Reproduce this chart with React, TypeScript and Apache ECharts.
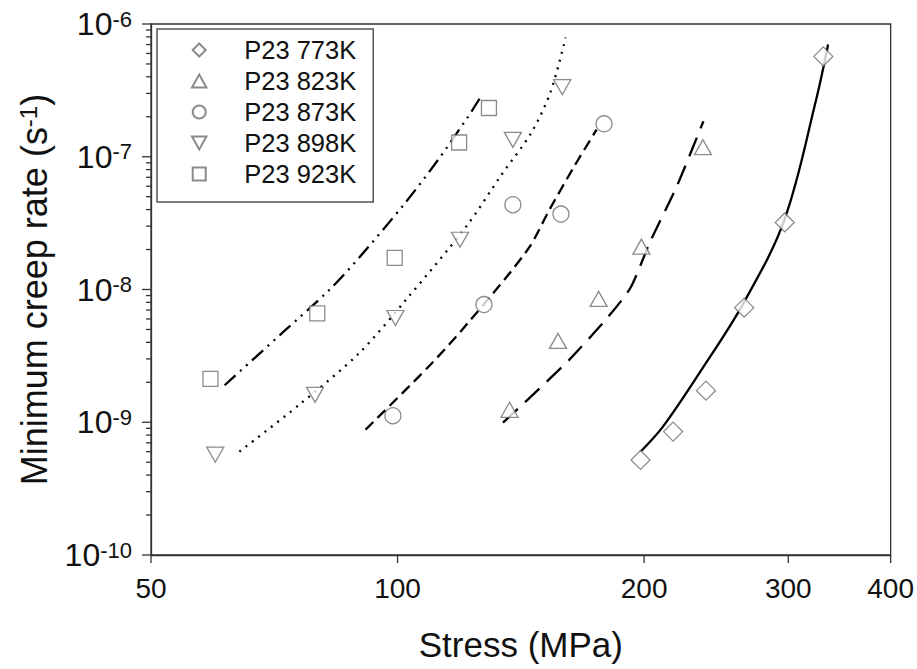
import React, { useEffect, useRef } from 'react';
import * as echarts from 'echarts';

// ---- axis ticks ----
const xTicks = [50, 100, 200, 300, 400];
const yMajorTicks = [1e-10, 1e-9, 1e-8, 1e-7, 1e-6];
const yMinorMultipliers = [2, 3, 4, 5, 6, 7, 8, 9];
const yDecades = [1e-10, 1e-9, 1e-8, 1e-7];
const X_MIN = 50;
const X_MAX = 400;
const Y_MIN = 1e-10;
const Y_MAX = 1e-6;

// ---- legend / series names ----
const seriesNames = ['P23 773K', 'P23 823K', 'P23 873K', 'P23 898K', 'P23 923K'];

// ---- measured points (stress MPa, min creep rate 1/s) ----
const stress773 = [198, 217, 238, 265, 297, 331];
const rate773 = [5.2e-10, 8.5e-10, 1.73e-9, 7.3e-9, 3.2e-8, 5.7e-7];

const stress823 = [137, 157, 176, 198.5, 236];
const rate823 = [1.24e-9, 4.1e-9, 8.5e-9, 2.1e-8, 1.18e-7];

const stress873 = [98.7, 127.5, 138.3, 158.3, 178.7];
const rate873 = [1.12e-9, 7.7e-9, 4.35e-8, 3.7e-8, 1.77e-7];

const stress898 = [59.9, 79.3, 99.4, 119.2, 138.3, 158.9];
const rate898 = [5.7e-10, 1.61e-9, 6.1e-9, 2.37e-8, 1.34e-7, 3.34e-7];

const stress923 = [59.1, 79.8, 99.2, 118.9, 129.3];
const rate923 = [2.12e-9, 6.6e-9, 1.73e-8, 1.28e-7, 2.33e-7];

// ---- fitted curves ----
const fitStress773 = [198, 211, 235, 264.5, 296.7, 324.4, 335.5];
const fitRate773 = [6.0e-10, 9.3e-10, 2.48e-9, 7.9e-9, 3.35e-8, 2.69e-7, 7.0e-7];

const fitStress823 = [134.5, 144.2, 162, 179.5, 192.5, 203.5, 219.3, 236.3];
const fitRate823 = [9.95e-10, 1.48e-9, 2.95e-9, 5.9e-9, 1.03e-8, 2.3e-8, 6.0e-8, 1.85e-7];

const fitStress873 = [91.4, 109.6, 121.9, 144.2, 153.3, 164.3, 175];
const fitRate873 = [8.8e-10, 2.7e-9, 5.6e-9, 2.0e-8, 4.0e-8, 8.45e-8, 1.6e-7];

const fitStress898 = [64.1, 75.8, 89.7, 102.2, 121.4, 133.9, 145.6, 153.8, 160.4];
const fitRate898 = [6.0e-10, 1.35e-9, 3.3e-9, 8.25e-9, 3.0e-8, 7.3e-8, 1.51e-7, 3.09e-7, 7.9e-7];

const fitStress923 = [61.5, 73.1, 82.5, 89.7, 102.2, 112.1, 121.9, 126];
const fitRate923 = [1.9e-9, 5.0e-9, 9.9e-9, 1.73e-8, 4.5e-8, 9.5e-8, 2.0e-7, 2.75e-7];

const FONT = 'Liberation Sans, Arial, Helvetica, sans-serif';
const AXIS_COLOR = '#333';
const SYMBOL_STROKE = '#6e6e6e';

const SYM_DIAMOND = 'path://M5,0 L10,5 L5,10 L0,5 Z';
const SYM_TRI_UP = 'path://M5,0 L10,9 L0,9 Z';
const SYM_TRI_DOWN = 'path://M0,0 L10,0 L5,9 Z';
const SYM_SQUARE = 'path://M0,0 L10,0 L10,10 L0,10 Z';

const zip = (xs: number[], ys: number[]) => xs.map((x, i) => [x, ys[i]]);

export default function App() {
  const ref = useRef<HTMLDivElement>(null);

  useEffect(() => {
    document.body.style.margin = '0';
    if (!ref.current) return;
    const chart = echarts.init(ref.current, null, { renderer: 'svg' });

    const yMinorTicks: number[] = [];
    yDecades.forEach((d) => yMinorMultipliers.forEach((m) => yMinorTicks.push(d * m)));

    const pointStyle = { color: '#fff', borderColor: SYMBOL_STROKE, borderWidth: 1.3 };
    const lineBase = { color: '#000', width: 2.3 };

    const option: any = {
      animation: false,
      backgroundColor: '#fff',
      grid: {
        left: 151,
        top: 24,
        right: 22,
        bottom: 114,
        show: true,
        borderColor: AXIS_COLOR,
        borderWidth: 1.3,
        backgroundColor: 'transparent',
      },
      xAxis: [
        {
          type: 'log',
          logBase: 10,
          min: X_MIN,
          max: X_MAX,
          axisLine: { show: true, lineStyle: { color: AXIS_COLOR, width: 1.3 } },
          axisTick: { show: false },
          minorTick: { show: false },
          axisLabel: {
            customValues: xTicks,
            formatter: (v: number) => String(Math.round(v)),
            fontSize: 28,
            color: '#111',
            fontFamily: FONT,
            margin: 19,
          },
          splitLine: { show: false },
          name: 'Stress (MPa)',
          nameLocation: 'middle',
          nameGap: 72,
          nameTextStyle: { fontSize: 35, color: '#111', fontFamily: FONT },
        },
      ],
      yAxis: [
        {
          type: 'log',
          logBase: 10,
          min: Y_MIN,
          max: Y_MAX,
          axisLine: { show: true, lineStyle: { color: AXIS_COLOR, width: 1.3 } },
          axisTick: { show: false },
          minorTick: { show: false },
          axisLabel: {
            customValues: yMajorTicks,
            margin: 19,
            formatter: (v: number) => `{b|10}{s|${Math.round(Math.log10(v))}}`,
            rich: {
              b: { fontSize: 32, color: '#111', fontFamily: FONT },
              s: { fontSize: 22, color: '#111', fontFamily: FONT, verticalAlign: 'top' },
            },
          },
          splitLine: { show: false },
          name: 'Minimum creep rate (s{sup|-1})',
          nameLocation: 'middle',
          nameGap: 99,
          nameTextStyle: {
            fontSize: 36,
            color: '#111',
            fontFamily: FONT,
            rich: {
              sup: { fontSize: 24, color: '#111', fontFamily: FONT, verticalAlign: 'top' },
            },
          },
        },
      ],
      legend: {
        show: true,
        orient: 'vertical',
        left: 157,
        top: 29,
        data: seriesNames,
        itemWidth: 80,
        itemHeight: 13,
        itemGap: 5,
        padding: [8, 17, 15, 34],
        borderColor: '#555',
        borderWidth: 1.5,
        backgroundColor: '#fff',
        symbolKeepAspect: true,
        textStyle: { fontSize: 25.5, color: '#111', fontFamily: FONT },
      },
      series: [
        {
          type: 'line', name: 'fit 773K', data: zip(fitStress773, fitRate773),
          symbol: 'none', smooth: 0.35, silent: true, z: 2,
          lineStyle: { ...lineBase, type: 'solid' },
        },
        {
          type: 'line', name: 'fit 823K', data: zip(fitStress823, fitRate823),
          symbol: 'none', smooth: 0.2, silent: true, z: 2,
          lineStyle: { ...lineBase, type: [20, 10] },
        },
        {
          type: 'line', name: 'fit 873K', data: zip(fitStress873, fitRate873),
          symbol: 'none', smooth: 0.3, silent: true, z: 2,
          lineStyle: { ...lineBase, type: [11, 6] },
        },
        {
          type: 'line', name: 'fit 898K', data: zip(fitStress898, fitRate898),
          symbol: 'none', smooth: 0.3, silent: true, z: 2,
          lineStyle: { ...lineBase, type: [2, 6] },
        },
        {
          type: 'line', name: 'fit 923K', data: zip(fitStress923, fitRate923),
          symbol: 'none', smooth: 0.3, silent: true, z: 2,
          lineStyle: { ...lineBase, type: [15, 6, 2, 6, 2, 6] },
        },
        {
          type: 'scatter', name: seriesNames[0], data: zip(stress773, rate773),
          symbol: SYM_DIAMOND, symbolSize: 19, itemStyle: pointStyle, z: 5,
        },
        {
          type: 'scatter', name: seriesNames[1], data: zip(stress823, rate823),
          symbol: SYM_TRI_UP, symbolSize: [17, 15], itemStyle: pointStyle, z: 5,
        },
        {
          type: 'scatter', name: seriesNames[2], data: zip(stress873, rate873),
          symbol: 'circle', symbolSize: 16, itemStyle: pointStyle, z: 5,
        },
        {
          type: 'scatter', name: seriesNames[3], data: zip(stress898, rate898),
          symbol: SYM_TRI_DOWN, symbolSize: [17, 15], itemStyle: pointStyle, z: 5,
        },
        {
          type: 'scatter', name: seriesNames[4], data: zip(stress923, rate923),
          symbol: SYM_SQUARE, symbolSize: 15, itemStyle: pointStyle, z: 5,
        },
      ],
    };

    chart.setOption(option);

    // Tick marks positioned through the axes' own scales (convertToPixel)
    const toPx = (x: number, y: number) =>
      chart.convertToPixel({ xAxisIndex: 0, yAxisIndex: 0 }, [x, y]) as number[];
    const tickStyle = { stroke: AXIS_COLOR, lineWidth: 1.3 };
    const tickEls: any[] = [];
    const addTick = (x: number, y: number, dx: number, dy: number) => {
      const p = toPx(x, y);
      if (!p || !isFinite(p[0]) || !isFinite(p[1])) return;
      tickEls.push({
        type: 'line',
        silent: true,
        z: 10,
        shape: { x1: p[0], y1: p[1], x2: p[0] + dx, y2: p[1] + dy },
        style: tickStyle,
      });
    };
    xTicks.forEach((v) => addTick(v, Y_MIN, 0, 8));
    yMajorTicks.forEach((v) => addTick(X_MIN, v, -9, 0));
    yMinorTicks.forEach((v) => addTick(X_MIN, v, -5, 0));
    chart.setOption({ graphic: tickEls });

    return () => chart.dispose();
  }, []);

  return <div ref={ref} style={{ width: 917, height: 669 }} />;
}
